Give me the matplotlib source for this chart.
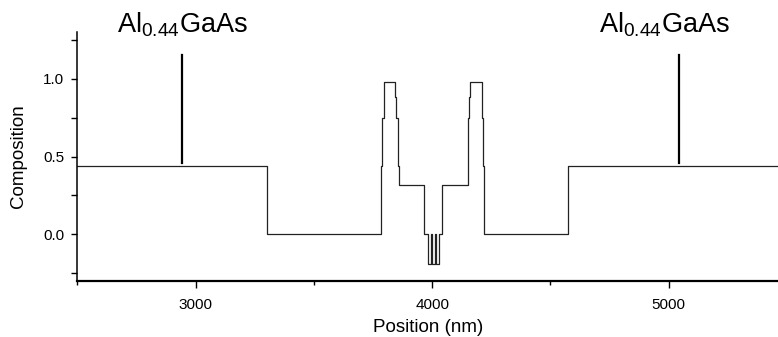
import numpy as np
import matplotlib
matplotlib.use("Agg")
import matplotlib.pyplot as plt
from matplotlib.ticker import MultipleLocator

plt.rcParams['font.family'] = ['Liberation Sans', 'DejaVu Sans']
plt.rcParams['mathtext.default'] = 'regular'

# layer start positions (nm) and Al composition of each layer
layer_start = [2500, 3300, 3782, 3789, 3794, 3797, 3843, 3846, 3854, 3858,
               3964, 3984, 3996, 4000, 4012, 4016, 4028, 4043,
               4150, 4153, 4157, 4160, 4209, 4212, 4216, 4218, 4223, 4575, 5500]
composition = [0.44, 0.0, 0.44, 0.75, 0.88, 0.98, 0.88, 0.75, 0.44, 0.32,
               0.0, -0.19, 0.0, -0.19, 0.0, -0.19, 0.0, 0.32,
               0.44, 0.75, 0.88, 0.98, 0.88, 0.75, 0.44, 0.0, 0.0, 0.44, 0.44]

# cladding labels: text x, marker x
label_text = r'Al$_{0.44}$GaAs'
label_x = [2665, 4707]
marker_x = [2940, 5045]
marker_y = (0.46, 1.15)

fig = plt.figure(figsize=(7.78, 3.37), dpi=100)
ax = fig.add_axes([0.0996, 0.166, 0.9004, 0.739])

ax.plot(layer_start, composition, drawstyle='steps-post', color='#222222', lw=0.9)

for tx, mx in zip(label_x, marker_x):
    ax.plot([mx, mx], marker_y, color='k', lw=1.6)
    ax.text(tx, 1.295, label_text, fontsize=19.5, ha='left', va='baseline',
            clip_on=False)

ax.set_xlim(2500, 5462)
ax.set_ylim(-0.3, 1.3)

ax.spines['top'].set_visible(False)
ax.spines['right'].set_visible(False)
ax.spines['left'].set_linewidth(1.1)
ax.spines['bottom'].set_linewidth(1.6)

ax.xaxis.set_major_locator(MultipleLocator(1000))
ax.xaxis.set_minor_locator(MultipleLocator(500))
ax.yaxis.set_major_locator(MultipleLocator(0.5))
ax.yaxis.set_minor_locator(MultipleLocator(0.25))
ax.yaxis.set_major_formatter(plt.FormatStrFormatter('%.1f'))

ax.tick_params(axis='x', which='major', direction='out', length=5, width=1.0,
               labelsize=11, pad=7)
ax.tick_params(axis='x', which='minor', direction='out', length=3, width=1.0)
ax.tick_params(axis='y', which='both', direction='out', length=4.5, width=1.0,
               labelsize=11, pad=5)

ax.set_xlabel('Position (nm)', fontsize=13.5, labelpad=5)
ax.set_ylabel('Composition', fontsize=13.5, labelpad=12)

fig.savefig('out.png', dpi=100)
